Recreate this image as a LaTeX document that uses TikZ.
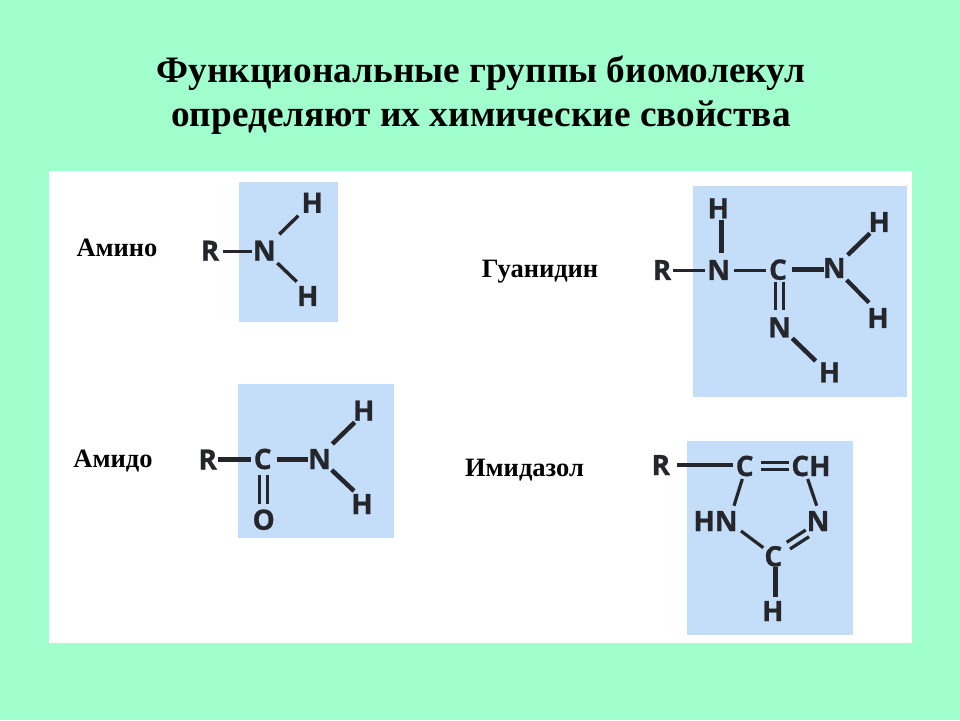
\documentclass[tikz,border=0pt]{standalone}
\usepackage{fontspec}
\setmainfont{Liberation Serif}
\newfontfamily\atomfont[BoldFeatures={FakeBold=0.9}]{Open Sans}
\definecolor{bgmint}{HTML}{A0FFCC}
\definecolor{panelblue}{HTML}{C4DDF8}
\definecolor{ink}{HTML}{24262B}
\tikzset{
  atom/.style={font=\atomfont\fontsize{28}{28}\selectfont\bfseries,text=ink,inner sep=0pt,outer sep=0pt},
  label/.style={font=\fontsize{26.5}{26.5}\selectfont\bfseries,text=black,inner sep=0pt},
  titletext/.style={font=\fontsize{37.3}{44}\selectfont\bfseries,text=black,inner sep=0pt,align=center},
  panel/.style={fill=panelblue},
  bondline/.style={draw=ink,line width=#1},
  bondline/.default=3.4pt
}
\newcommand\bnd[5][3.4pt]{\draw[bondline=#1] ([shift={(#3)}]#2.center) -- ([shift={(#5)}]#4.center);}
\begin{document}
\begin{tikzpicture}[x=1pt,y=-1pt]
\useasboundingbox (0,0) rectangle (960,720);
\fill[bgmint] (0,0) rectangle (960,720);
\fill[white] (49,171) rectangle (912,643);
\fill[panel] (239,182) rectangle (338,322);
\fill[panel] (238.3,384) rectangle (393.7,537.7);
\fill[panel] (693.3,186) rectangle (906.7,396.7);
\fill[panel] (687,441) rectangle (852.7,635);

\node[titletext] (title) at (481,95.5) {Функциональные группы биомолекул\\определяют их химические свойства};
\node[label] (lamino) at (117,248) {Амино};
\node[label] (lamido) at (113,461) {Амидо};
\node[label] (lguan) at (540,272) {Гуанидин};
\node[label] (limid) at (524.5,470) {Имидазол};

% amino
\node[atom] (aR) at (210,250.7) {R};
\node[atom] (aN) at (264.3,250.7) {N};
\node[atom] (aH1) at (312.2,202.8) {H};
\node[atom] (aH2) at (307.7,296) {H};
\bnd{aR}{13.3,1}{aN}{-12.6,1}
\bnd{aN}{15,-16.4}{aH1}{-13.9,12.9}
\bnd{aN}{13,12.3}{aH2}{-11,-14.3}

% amido
\node[atom] (bR) at (207.7,459.5) {R};
\node[atom] (bC) at (262.7,459) {C};
\node[atom] (bN) at (319.5,459) {N};
\node[atom] (bH1) at (363.7,410.7) {H};
\node[atom] (bH2) at (362,504) {H};
\node[atom] (bO) at (263.7,519.7) {O};
\bnd[4.5pt]{bR}{10.6,.2}{bC}{-12,.7}
\bnd[4.5pt]{bC}{14,.7}{bN}{-11.2,.7}
\bnd[3.5pt]{bC}{-3,16}{bO}{-4,-15.7}
\bnd[3.5pt]{bC}{5,16}{bO}{4,-15.7}
\bnd[4.5pt]{bN}{12.8,-15}{bH1}{-9,11.6}
\bnd[4.5pt]{bN}{12.2,11}{bH2}{-8,-13}

% guanidine
\node[atom] (gR) at (662,270) {R};
\node[atom] (gN1) at (718.7,270) {N};
\node[atom] (gH0) at (718.3,208.3) {H};
\node[atom] (gC) at (778,269.7) {C};
\node[atom] (gN2) at (834.2,268) {N};
\node[atom] (gH1) at (879.2,222) {H};
\node[atom] (gH2) at (878,318) {H};
\node[atom] (gN3) at (779.5,327.4) {N};
\node[atom] (gH3) at (829.5,372.3) {H};
\bnd[3.2pt]{gR}{11.3,.7}{gN1}{-13.7,.7}
\bnd[4.5pt]{gH0}{3,11.7}{gN1}{2.6,-17.3}
\bnd[3.2pt]{gN1}{15.6,.7}{gC}{-12,1}
\bnd[4.5pt]{gC}{14.3,-.4}{gN2}{-10.2,1.3}
\bnd[3.2pt]{gC}{-2.7,12}{gN3}{-4.2,-17.4}
\bnd[3.2pt]{gC}{5.3,12}{gN3}{3.8,-17.4}
\bnd[4.5pt]{gN2}{13.5,-13}{gH1}{-9.2,11.3}
\bnd[4.2pt]{gN2}{12.5,12}{gH2}{-9,-15.3}
\bnd[4.5pt]{gN3}{12.8,10.9}{gH3}{-13.8,-11.3}

% imidazole
\node[atom] (iR) at (660.8,465) {R};
\node[atom] (iC1) at (744.7,466) {C};
\node[atom] (iCH) at (811,466) {CH};
\node[atom] (iHN) at (715.5,521) {HN};
\node[atom] (iN) at (818,521) {N};
\node[atom] (iC2) at (773.3,556.3) {C};
\node[atom] (iH) at (772.7,611) {H};
\bnd[3.2pt]{iR}{16.5,0}{iC1}{-11.4,-1}
\bnd[3pt]{iC1}{16.3,-3.7}{iCH}{-22,-3.7}
\bnd[3pt]{iC1}{16.3,3.3}{iCH}{-22,3.3}
\bnd[3.2pt]{iC1}{-2.4,13}{iHN}{18.5,-15.3}
\bnd[3.2pt]{iCH}{-3.3,13}{iN}{-1.3,-15.3}
\bnd[3.2pt]{iHN}{25.5,10}{iC2}{-10,-8.6}
\bnd[3.2pt]{iC2}{13.4,-14}{iN}{-12.3,9}
\bnd[3.2pt]{iC2}{16.7,-7.3}{iN}{-9,15.7}
\bnd[5pt]{iC2}{1.7,10.4}{iH}{2.3,-13.7}
\end{tikzpicture}
\end{document}
